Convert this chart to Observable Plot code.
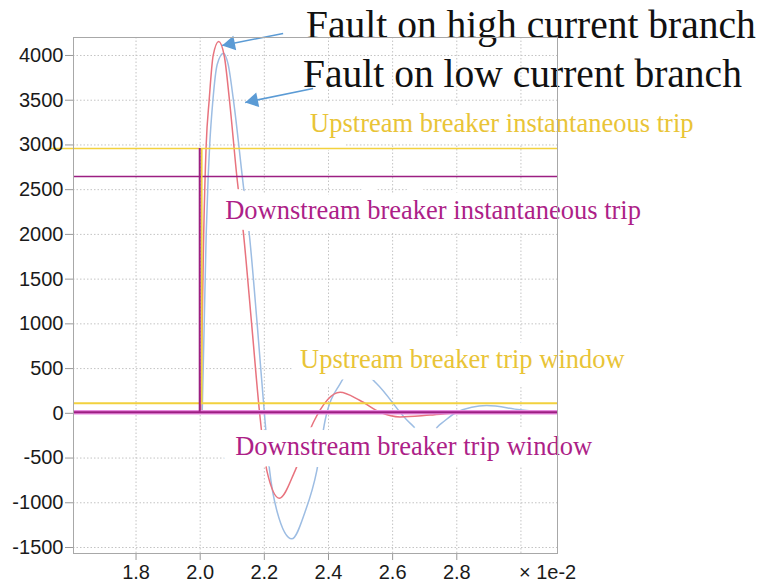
<!DOCTYPE html>
<html><head><meta charset="utf-8">
<script src="https://cdn.jsdelivr.net/npm/d3@7"></script>
<script src="https://cdn.jsdelivr.net/npm/@observablehq/plot@0.6"></script>
<style>
html,body{margin:0;padding:0;background:#fff;}
#chart svg{display:block;}
</style></head><body><div id="chart"></div>
<script>
// ---- data (time in units of 1e-2 s, current in A) ----
const highT = [2.0016, 2.0062, 2.0109, 2.0187, 2.0280, 2.0405, 2.0576, 2.0748, 2.0913, 2.1143, 2.1352, 2.1604, 2.1854, 2.2078, 2.2470, 2.2960, 2.3530, 2.4361, 2.4984, 2.5607, 2.6231, 2.7165, 2.8411, 2.9657, 3.1090];
const highI = [0, 1000, 2000, 3000, 3500, 4000, 4157, 4000, 3500, 2647, 2000, 1000, 0, -640, -949, -640, -100, 236, 143, 12, -40, -20, 15, 10, 0];
const lowT = [2.0062, 2.0125, 2.0187, 2.0249, 2.0296, 2.0396, 2.0530, 2.0726, 2.0872, 2.1037, 2.1349, 2.1536, 2.1776, 2.2025, 2.2165, 2.2399, 2.2857, 2.3271, 2.3636, 2.3894, 2.4361, 2.4860, 2.5505, 2.6542, 2.7040, 2.7530, 2.7997, 2.8931, 2.9969, 3.1090];
const lowI = [0, 1000, 2000, 2647, 3000, 3500, 3900, 4026, 3900, 3500, 2535, 1985, 1000, -100, -640, -1100, -1403, -1100, -640, -80, 330, 520, 330, -110, -240, -110, 12, 87, 40, 0];

const xDomain = [1.605, 3.114];
const yDomain = [-1567, 4201];
const xTicks = [1.8, 2.0, 2.2, 2.4, 2.6, 2.8];
const xGrid = [1.8, 2.0, 2.2, 2.4, 2.6, 2.8, 3.0];
const xUnitTick = [3.0];
const xUnitLabel = "× 1e-2";
const yTicks = [-1500, -1000, -500, 0, 500, 1000, 1500, 2000, 2500, 3000, 3500, 4000];

// breaker thresholds
const thrLabels = ["Upstream breaker instantaneous trip", "Downstream breaker instantaneous trip", "Upstream breaker trip window", "Downstream breaker trip window"];
const thrLevels = [2960, 2647, 113, 12];
const thrStart = [1.5265, 1.605, 1.605, 1.605];
const thrEnd = [3.114, 3.114, 3.114, 3.114];
const thrLabelX = [2.3427, 2.0779, 2.3115, 2.109];
const thrLabelY = [3142, 2174, 501, -471];
// vertical trip steps at fault instant
const stepT = [2.005, 1.9985];
const stepFrom = [113, 12];
const stepTo = [2960, 2960];

// fault annotations
const faultLabels = ["Fault on high current branch", "Fault on low current branch"];
const faultX = [2.3302, 2.3209];
const faultY = [4201, 3653];
const arrowX1 = [2.2586, 2.352];
const arrowY1 = [4246, 3631];
const arrowX2 = [2.0685, 2.1402];
const arrowY2 = [4112, 3475];

// ---- layout ----
const W = 766, H = 585, mL = 73, mR = 209, mT = 37, mB = 32;
const GOLD_LINE = "#f2d13e", GOLD_TEXT = "#e9c437";
const MAG_LINE = "#9c1f82", MAG_TEXT = "#ad1f88", PINK = "#e98be0";
const RED = "#e8737e", BLUE = "#9dbde3", ARROW = "#5b9bd5";

const kx = (W - mL - mR) / (xDomain[1] - xDomain[0]);
const ky = (H - mT - mB) / (yDomain[1] - yDomain[0]);
const r = 5.5;
const tipDist = 2 * Math.sqrt(Math.PI * r * r / (3 * Math.sqrt(3)));
const arrowMarks = arrowX1.flatMap((_, i) => {
  const dxp = (arrowX2[i] - arrowX1[i]) * kx;
  const dyp = -(arrowY2[i] - arrowY1[i]) * ky;
  const len = Math.hypot(dxp, dyp);
  const ux = dxp / len, uy = dyp / len;
  const ang = Math.atan2(ux, -uy) * 180 / Math.PI;
  return [
    Plot.link([i], {x1: arrowX1[i], y1: arrowY1[i], x2: arrowX2[i], y2: arrowY2[i], stroke: ARROW, strokeWidth: 1.6}),
    Plot.dot([i], {x: arrowX2[i], y: arrowY2[i], symbol: "triangle", r, rotate: ang, fill: ARROW, stroke: "none", dx: -ux * tipDist, dy: -uy * tipDist})
  ];
});

const idx = (arr) => arr.map((_, i) => i);
const ruleFor = (i, stroke, strokeWidth) => Plot.ruleY([thrLevels[i]], {x1: thrStart[i], x2: thrEnd[i], stroke, strokeWidth});
const labelFor = (list, fill) => Plot.text(list, {
  x: i => thrLabelX[i], y: i => thrLabelY[i], text: i => thrLabels[i],
  textAnchor: "start", lineAnchor: "bottom", fontFamily: "Liberation Serif", fontSize: 26.5,
  fill, stroke: "white", strokeWidth: 24, strokeLinejoin: "round"
});

const chart = Plot.plot({
  width: W, height: H,
  marginLeft: mL, marginRight: mR, marginTop: mT, marginBottom: mB,
  x: {domain: xDomain, label: null},
  y: {domain: yDomain, label: null},
  style: {fontFamily: "Liberation Sans", fontSize: "20px", color: "#1a1a1a", background: "#fff", overflow: "visible"},
  marks: [
    Plot.gridX(xGrid, {stroke: "#c4c4c4", strokeOpacity: 1, strokeDasharray: "1.5,2"}),
    Plot.gridY(yTicks, {stroke: "#c4c4c4", strokeOpacity: 1, strokeDasharray: "1.5,2"}),
    Plot.line(lowI, {x: lowT, y: lowI, stroke: BLUE, strokeWidth: 1.5, curve: "monotone-x"}),
    Plot.line(highI, {x: highT, y: highI, stroke: RED, strokeWidth: 1.5, curve: "monotone-x"}),
    labelFor([0, 2], GOLD_TEXT),
    labelFor([1, 3], MAG_TEXT),
    ruleFor(0, GOLD_LINE, 1.6),
    ruleFor(1, MAG_LINE, 1.6),
    ruleFor(2, GOLD_LINE, 2),
    ruleFor(3, PINK, 4.5),
    ruleFor(3, MAG_LINE, 1.8),
    Plot.ruleX([stepT[0]], {y1: stepFrom[0], y2: stepTo[0], stroke: GOLD_LINE, strokeWidth: 1.6}),
    Plot.ruleX([stepT[1]], {y1: stepFrom[1], y2: stepTo[1], stroke: MAG_LINE, strokeWidth: 2}),
    ...arrowMarks,
    Plot.text(idx(faultLabels), {
      x: i => faultX[i], y: i => faultY[i], text: i => faultLabels[i],
      textAnchor: "start", lineAnchor: "bottom", fontFamily: "Liberation Serif", fontSize: 39.5, fill: "#111"
    }),
    Plot.axisY(yTicks, {tickSize: 8, tickPadding: 2, tickFormat: d => String(d), stroke: "#999"}),
    Plot.axisX(xTicks, {tickSize: 7, tickPadding: 4, tickFormat: d => d.toFixed(1), stroke: "#999"}),
    Plot.axisX(xUnitTick, {tickSize: 7, tickPadding: 4, tickFormat: () => xUnitLabel, textAnchor: "start", dx: -2, strokeOpacity: 0}),
    Plot.frame({stroke: "#a8a8a8"})
  ]
});
document.getElementById("chart").append(chart);
</script>
</body></html>
